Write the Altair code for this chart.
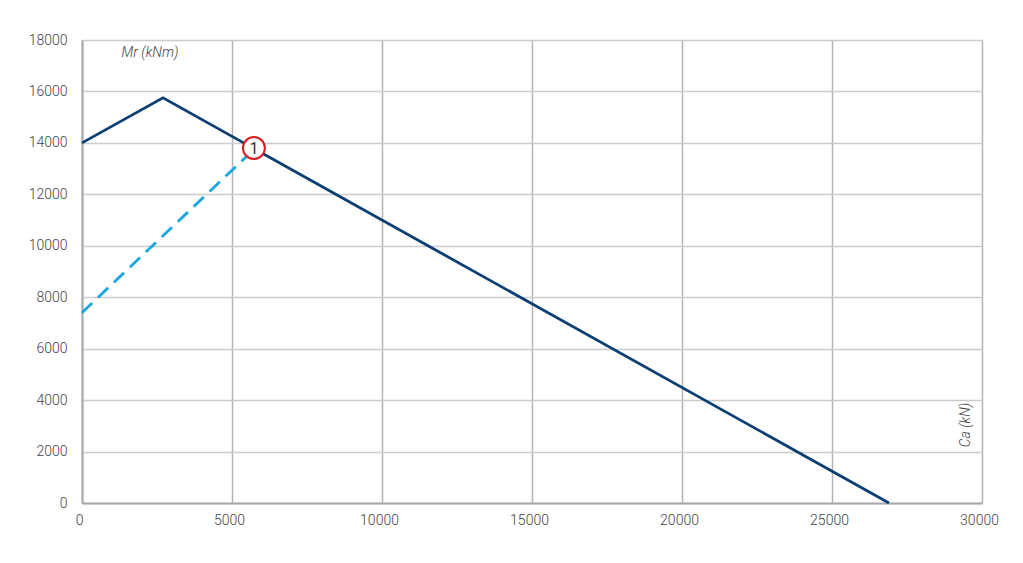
import altair as alt
import pandas as pd

# Solid envelope line
solid_x = [0, 2700, 26900]
solid_y = [14000, 15750, 0]
# Dashed line
dash_x = [0, 5600]
dash_y = [7400, 13600]
# Marker point
mark_x = [5730]
mark_y = [13800]
mark_label = ["1"]

x_ticks = [0, 5000, 10000, 15000, 20000, 25000, 30000]
y_ticks = [0, 2000, 4000, 6000, 8000, 10000, 12000, 14000, 16000, 18000]

FONT = "Roboto"

solid_df = pd.DataFrame({"x": solid_x, "y": solid_y})
dash_df = pd.DataFrame({"x": dash_x, "y": dash_y})
mark_df = pd.DataFrame({"x": mark_x, "y": mark_y, "label": mark_label})

xscale = alt.Scale(domain=[0, 30000], nice=False, zero=False)
yscale = alt.Scale(domain=[0, 18000], nice=False, zero=False)

xaxis = alt.Axis(values=x_ticks, title=None, grid=True, gridColor="#b3b3b8", gridWidth=1.5,
                 domainColor="#a8a8ae", domainWidth=2, ticks=False, labelPadding=10,
                 labelFlush=False, format="d", labelOffset=-3,
                 labelFont=FONT, labelFontSize=14, labelColor="#444444", labelFontWeight=300)
yaxis = alt.Axis(values=y_ticks, title=None, grid=True, gridColor="#cccccc", gridWidth=1.5,
                 domainColor="#a8a8ae", domainWidth=2, ticks=False, labelPadding=15,
                 labelFlush=False, format="d",
                 labelFont=FONT, labelFontSize=14, labelColor="#444444", labelFontWeight=300)

base_x = alt.X("x:Q", scale=xscale, axis=xaxis)
base_y = alt.Y("y:Q", scale=yscale, axis=yaxis)

solid = alt.Chart(solid_df).mark_line(color="#0b3f73", strokeWidth=2.8).encode(x=base_x, y=base_y)
dashed = alt.Chart(dash_df).mark_line(color="#1aa6e4", strokeWidth=2.8, strokeDash=[14, 8]).encode(
    x=alt.X("x:Q", scale=xscale), y=alt.Y("y:Q", scale=yscale))
circle = alt.Chart(mark_df).mark_point(shape="circle", size=480, filled=False, fill="white",
                                       fillOpacity=1, stroke="#e3141c", strokeWidth=2, opacity=1).encode(
    x=alt.X("x:Q", scale=xscale), y=alt.Y("y:Q", scale=yscale))
circle_text = alt.Chart(mark_df).mark_text(font=FONT, fontSize=16, color="#333333", dy=1).encode(
    x=alt.X("x:Q", scale=xscale), y=alt.Y("y:Q", scale=yscale), text="label:N")

ytitle = alt.Chart(pd.DataFrame({"t": ["Mr (kNm)"]})).mark_text(
    font=FONT, fontSize=14, fontStyle="italic", fontWeight=300, color="#444444").encode(
    x=alt.value(68), y=alt.value(13), text="t:N")
xtitle = alt.Chart(pd.DataFrame({"t": ["Ca (kN)"]})).mark_text(
    font=FONT, fontSize=14, fontStyle="italic", fontWeight=300, color="#444444", angle=270).encode(
    x=alt.value(884), y=alt.value(385), text="t:N")

chart = alt.layer(solid, dashed, circle, circle_text, ytitle, xtitle).properties(
    width=900, height=463, autosize="none",
    padding={"left": 74, "top": 32, "right": 30, "bottom": 50},
).configure_view(stroke="#b3b3b8", strokeWidth=1.5).configure(background="white")

chart.save("out.html", embed_options={"renderer": "svg", "actions": False})
